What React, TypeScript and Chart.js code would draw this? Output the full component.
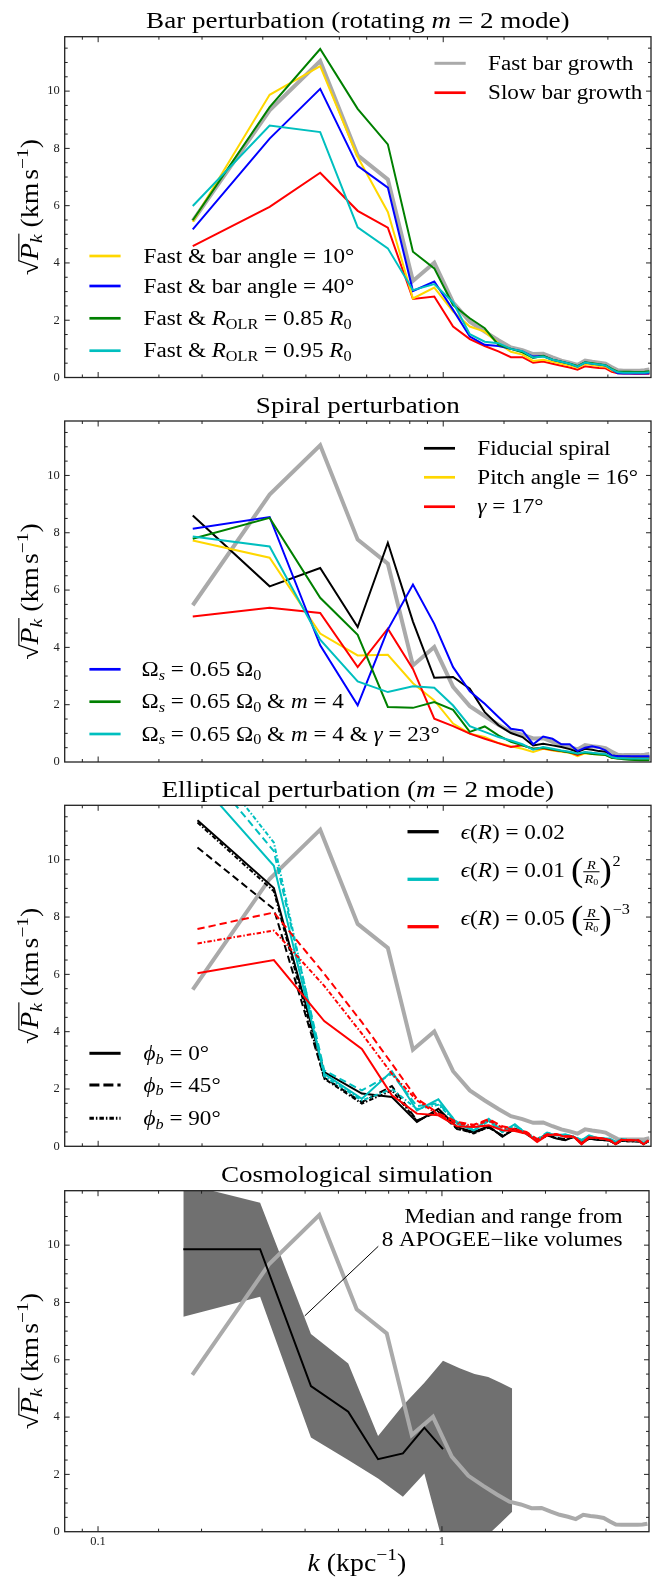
import React, { useEffect, useRef } from "react";
import { Chart, registerables } from "chart.js";
Chart.register(...registerables);

const FONT = '"Liberation Serif", "DejaVu Serif", serif';
const SX = 1.13;
const INK = "#111";
const GRAY = "#aaaaaa";
const BAND = "#707070";
const GOLD = "#ffd700";
const BLUE = "#0000ff";
const GREEN = "#008000";
const CYAN = "#00bfbf";
const RED = "#ff0000";
const BLACK = "#000000";

// ---------- data ----------
const kBar = [0.188, 0.314, 0.440, 0.565, 0.691, 0.817, 0.942, 1.068, 1.194, 1.319, 1.445, 1.571, 1.696, 1.822, 1.948, 2.073, 2.199, 2.325, 2.450, 2.576, 2.702, 2.827, 2.953, 3.079, 3.204, 3.330, 3.456, 3.581, 3.707, 3.833, 3.958];
const kEll = [0.194, 0.323, 0.452, 0.581, 0.710, 0.839, 0.968, 1.097, 1.226, 1.355, 1.484, 1.613, 1.742, 1.871, 2.000, 2.129, 2.258, 2.387, 2.516, 2.645, 2.774, 2.903, 3.032, 3.161, 3.290, 3.419, 3.548, 3.677, 3.806, 3.935];
const kCos = [0.177, 0.296, 0.416, 0.534, 0.652, 0.770, 0.889, 1.007, 1.126, 1.244, 1.363, 1.481, 1.600];
const kMed = [0.177, 0.296, 0.416, 0.534, 0.652, 0.770, 0.889, 1.007];
const kNote = [0.653, 0.399];

// Bar perturbation
const fastBar = [5.47, 9.33, 11.05, 7.76, 6.92, 3.37, 4.01, 2.62, 1.95, 1.60, 1.30, 1.05, 0.95, 0.82, 0.83, 0.70, 0.59, 0.52, 0.44, 0.59, 0.55, 0.52, 0.48, 0.36, 0.25, 0.24, 0.24, 0.24, 0.24, 0.25, 0.28];
const slowBar = [4.59, 5.96, 7.15, 5.82, 5.23, 2.74, 2.83, 1.78, 1.34, 1.10, 0.91, 0.71, 0.71, 0.52, 0.56, 0.48, 0.41, 0.35, 0.27, 0.39, 0.36, 0.33, 0.32, 0.20, 0.15, 0.14, 0.14, 0.13, 0.13, 0.13, 0.13];
const barAngle10 = [5.44, 9.87, 10.87, 7.70, 5.78, 2.76, 3.14, 2.30, 1.78, 1.60, 1.20, 0.90, 0.80, 0.58, 0.62, 0.55, 0.48, 0.42, 0.34, 0.47, 0.44, 0.40, 0.38, 0.25, 0.18, 0.18, 0.17, 0.17, 0.16, 0.16, 0.16];
const barAngle40 = [5.17, 8.34, 10.08, 7.39, 6.63, 3.02, 3.35, 2.36, 1.43, 1.14, 1.10, 1.00, 0.91, 0.73, 0.75, 0.62, 0.55, 0.48, 0.38, 0.52, 0.48, 0.45, 0.42, 0.28, 0.15, 0.14, 0.14, 0.14, 0.14, 0.14, 0.15];
const olr085 = [5.49, 9.44, 11.47, 9.38, 8.14, 4.39, 3.81, 2.53, 2.07, 1.72, 1.14, 1.00, 0.88, 0.68, 0.76, 0.62, 0.55, 0.48, 0.40, 0.53, 0.50, 0.46, 0.43, 0.30, 0.20, 0.20, 0.20, 0.19, 0.19, 0.20, 0.22];
const olr095 = [5.99, 8.80, 8.57, 5.24, 4.51, 3.05, 3.26, 2.62, 1.51, 1.25, 1.20, 1.00, 0.92, 0.70, 0.73, 0.62, 0.55, 0.48, 0.38, 0.52, 0.48, 0.45, 0.42, 0.28, 0.18, 0.17, 0.17, 0.17, 0.17, 0.17, 0.18];

// Spiral perturbation
const fiducial = [8.60, 6.13, 6.77, 4.71, 7.65, 4.90, 2.94, 2.97, 2.56, 1.74, 1.28, 1.01, 0.87, 0.58, 0.64, 0.58, 0.52, 0.45, 0.35, 0.46, 0.43, 0.38, 0.36, 0.23, 0.20, 0.18, 0.18, 0.17, 0.17, 0.17, 0.17];
const pitch16 = [7.73, 7.13, 4.48, 3.72, 3.74, 2.75, 2.15, 1.34, 0.99, 0.87, 0.66, 0.55, 0.46, 0.35, 0.46, 0.40, 0.36, 0.32, 0.20, 0.30, 0.28, 0.26, 0.25, 0.15, 0.12, 0.12, 0.12, 0.11, 0.11, 0.11, 0.11];
const gamma17 = [5.08, 5.38, 5.20, 3.31, 4.65, 3.25, 1.51, 1.25, 0.99, 0.81, 0.66, 0.52, 0.58, 0.46, 0.48, 0.42, 0.38, 0.34, 0.25, 0.33, 0.30, 0.28, 0.27, 0.16, 0.13, 0.13, 0.13, 0.12, 0.12, 0.12, 0.12];
const omega065 = [8.14, 8.55, 4.07, 1.98, 4.62, 6.19, 4.82, 3.31, 2.47, 2.03, 1.57, 1.16, 1.10, 0.62, 0.89, 0.81, 0.62, 0.62, 0.38, 0.50, 0.55, 0.50, 0.41, 0.23, 0.20, 0.20, 0.20, 0.20, 0.20, 0.20, 0.20];
const omegaM4 = [7.79, 8.52, 5.73, 4.44, 1.92, 1.89, 2.09, 1.82, 1.05, 1.24, 0.93, 0.70, 0.58, 0.46, 0.50, 0.44, 0.38, 0.33, 0.29, 0.32, 0.28, 0.26, 0.24, 0.15, 0.12, 0.10, 0.08, 0.07, 0.06, 0.06, 0.06];
const omegaM4g23 = [7.87, 7.52, 4.27, 2.81, 2.44, 2.64, 2.59, 1.97, 1.25, 1.05, 0.87, 0.75, 0.62, 0.43, 0.52, 0.46, 0.40, 0.36, 0.30, 0.35, 0.32, 0.30, 0.28, 0.17, 0.13, 0.13, 0.12, 0.12, 0.12, 0.12, 0.12];

// Elliptical perturbation
const ellConst0 = [11.38, 9.01, 2.59, 1.84, 1.72, 0.85, 1.31, 0.67, 0.50, 0.70, 0.33, 0.62, 0.44, 0.19, 0.38, 0.27, 0.21, 0.33, 0.10, 0.27, 0.23, 0.22, 0.20, 0.08, 0.20, 0.18, 0.18, 0.18, 0.08, 0.18];
const ellConst45 = [10.43, 8.28, 2.40, 1.54, 2.10, 0.90, 1.20, 0.60, 0.48, 0.65, 0.38, 0.60, 0.42, 0.22, 0.40, 0.30, 0.25, 0.33, 0.12, 0.28, 0.25, 0.22, 0.20, 0.10, 0.20, 0.20, 0.18, 0.18, 0.10, 0.18];
const ellConst90 = [11.30, 8.90, 2.36, 1.49, 1.95, 0.88, 1.25, 0.62, 0.45, 0.68, 0.35, 0.60, 0.44, 0.20, 0.38, 0.28, 0.22, 0.33, 0.10, 0.27, 0.24, 0.22, 0.20, 0.09, 0.19, 0.18, 0.18, 0.17, 0.09, 0.17];
const ellRise0 = [12.80, 9.79, 2.53, 1.66, 2.62, 1.25, 1.64, 0.79, 0.56, 0.96, 0.50, 0.77, 0.44, 0.21, 0.46, 0.38, 0.42, 0.33, 0.21, 0.38, 0.30, 0.28, 0.26, 0.15, 0.25, 0.22, 0.22, 0.20, 0.12, 0.20];
const ellRise45 = [13.50, 10.30, 2.65, 1.95, 2.53, 1.40, 1.50, 0.85, 0.60, 0.90, 0.55, 0.72, 0.48, 0.25, 0.48, 0.40, 0.40, 0.35, 0.22, 0.36, 0.30, 0.28, 0.26, 0.16, 0.24, 0.22, 0.22, 0.20, 0.12, 0.20];
const ellRise90 = [14.00, 10.60, 2.45, 1.60, 2.00, 1.30, 1.45, 0.80, 0.55, 0.88, 0.50, 0.70, 0.45, 0.22, 0.45, 0.38, 0.38, 0.33, 0.20, 0.35, 0.28, 0.26, 0.25, 0.14, 0.22, 0.20, 0.20, 0.19, 0.10, 0.19];
const ellFall0 = [6.04, 6.50, 4.37, 3.40, 1.78, 1.14, 1.08, 0.70, 0.67, 0.73, 0.56, 0.53, 0.44, 0.15, 0.38, 0.42, 0.33, 0.33, 0.07, 0.30, 0.30, 0.27, 0.21, 0.07, 0.23, 0.21, 0.21, 0.21, 0.07, 0.21];
const ellFall45 = [7.58, 8.16, 6.02, 4.33, 2.88, 1.66, 1.15, 0.85, 0.75, 0.95, 0.70, 0.60, 0.50, 0.25, 0.42, 0.42, 0.35, 0.35, 0.12, 0.32, 0.30, 0.27, 0.22, 0.10, 0.24, 0.22, 0.21, 0.21, 0.08, 0.20];
const ellFall90 = [7.08, 7.53, 5.60, 3.93, 2.53, 1.60, 1.10, 0.80, 0.72, 0.90, 0.65, 0.58, 0.48, 0.22, 0.40, 0.40, 0.34, 0.34, 0.10, 0.30, 0.30, 0.26, 0.22, 0.09, 0.23, 0.21, 0.21, 0.20, 0.08, 0.20];

// Cosmological simulation
const cosMedian = [9.86, 9.86, 5.08, 4.19, 2.53, 2.73, 3.63, 2.88];
const cosUpper = [12.15, 11.48, 6.90, 5.87, 3.34, 4.40, 5.20, 5.97, 5.70, 5.50, 5.40, 5.20, 5.00];
const cosLower = [7.50, 8.20, 3.29, 2.50, 1.86, 1.22, 2.03, -0.40, -0.50, -0.50, -0.10, 0.30, 0.70];
const noteLine = [9.96, 7.53];

// ---------- rich text ----------
type Seg = {
  t?: string; i?: boolean; sub?: Seg[]; sup?: Seg[]; hsup?: Seg[];
  frac?: [Seg[], Seg[]]; lp?: boolean; rp?: boolean; sp?: number; ol?: Seg[];
};

function rich(ctx: CanvasRenderingContext2D, segs: Seg[], x: number, y: number, size: number, draw: boolean): number {
  let cx = x;
  for (const s of segs) {
    if (s.sp) cx += s.sp * size;
    if (s.t) {
      ctx.font = `${s.i ? "italic " : ""}${size}px ${FONT}`;
      const w = ctx.measureText(s.t).width * SX;
      if (draw) {
        ctx.save(); ctx.translate(cx, y); ctx.scale(SX, 1); ctx.fillText(s.t, 0, 0); ctx.restore();
      }
      cx += w;
    }
    if (s.ol) {
      ctx.font = `${size}px ${FONT}`;
      const asc = ctx.measureText("\u221a").actualBoundingBoxAscent;
      const w = rich(ctx, s.ol, cx, y, size, draw);
      if (draw) ctx.fillRect(cx - 0.03 * size, y - asc, w + 0.06 * size, Math.max(1, 0.045 * size));
      cx += w;
    }
    if (s.sub) cx += rich(ctx, s.sub, cx, y + 0.17 * size, size * 0.7, draw);
    if (s.sup) cx += rich(ctx, s.sup, cx, y - 0.42 * size, size * 0.7, draw);
    if (s.hsup) cx += rich(ctx, s.hsup, cx + 0.03 * size, y - 0.55 * size, size * 0.7, draw) + 0.03 * size;
    if (s.frac) {
      const fs = size * 0.62;
      const wn = rich(ctx, s.frac[0], 0, 0, fs, false);
      const wd = rich(ctx, s.frac[1], 0, 0, fs, false);
      const w = Math.max(wn, wd) + 0.12 * size;
      const bar = y - 0.27 * size;
      if (draw) {
        rich(ctx, s.frac[0], cx + (w - wn) / 2, bar - 0.12 * size, fs, true);
        rich(ctx, s.frac[1], cx + (w - wd) / 2, bar + 0.53 * size, fs, true);
        ctx.fillRect(cx, bar - 0.5, w, 1);
      }
      cx += w;
    }
    if (s.lp || s.rp) {
      const fsz = size * 1.6;
      const ch = s.lp ? "(" : ")";
      ctx.font = `${fsz}px ${FONT}`;
      const w = ctx.measureText(ch).width * SX;
      if (draw) {
        ctx.save(); ctx.translate(cx, y + 0.19 * size); ctx.scale(SX, 1); ctx.fillText(ch, 0, 0); ctx.restore();
      }
      cx += w;
    }
  }
  return cx - x;
}

// ---------- panels ----------
interface LegendItem { color: string; width: number; dash?: number[]; dy: number; segs: Seg[]; bo?: number }
interface LegendBlock { x1: number; x2: number; tx: number; items: LegendItem[] }
interface Note { segs: Seg[]; x: number; dy: number }
interface PanelSpec {
  top: number; padTop: number; height: number; bottom: boolean;
  title: Seg[]; datasets: any[]; legends: LegendBlock[]; notes?: Note[];
}

const L = (k: number[], v: number[], color: string, width: number, dash: number[] = []) => ({
  data: k.map((x, i) => ({ x, y: v[i] })),
  borderColor: color, borderWidth: width, borderDash: dash,
  pointRadius: 0, fill: false, tension: 0, clip: 0,
});

const LS = 20.5;
const DASH = [7.3, 4];
const DOT = [4.5, 2, 1.5, 2];
const deg = "\u00b0";
const T = (t: string, i = false): Seg => ({ t, i });
const R0: Seg[] = [T("R", true), { sub: [T("0")] }];
const ROLR: Seg[] = [T("R", true), { sub: [T("OLR")] }];
const OMS: Seg[] = [T("\u03a9"), { sub: [T("s", true)] }, T(" = 0.65 \u03a9"), { sub: [T("0")] }];
const EPS: Seg[] = [T("\u03f5", true), T("("), T("R", true), T(")")];
const PHIB: Seg[] = [T("\u03d5", true), { sub: [T("b", true)] }];

const PANELS: PanelSpec[] = [
  {
    top: 0, padTop: 36.7, height: 390, bottom: false,
    title: [T("Bar perturbation (rotating "), T("m", true), T(" = 2 mode)")],
    datasets: [
      L(kBar, olr095, CYAN, 2), L(kBar, olr085, GREEN, 2), L(kBar, barAngle40, BLUE, 2),
      L(kBar, barAngle10, GOLD, 2), L(kBar, slowBar, RED, 2), L(kBar, fastBar, GRAY, 4),
    ],
    legends: [
      { x1: 434.5, x2: 465.7, tx: 488, items: [
        { color: GRAY, width: 3, dy: 26.6, segs: [T("Fast bar growth")] },
        { color: RED, width: 2.7, dy: 56, segs: [T("Slow bar growth")] },
      ] },
      { x1: 89.4, x2: 120.6, tx: 143.5, items: [
        { color: GOLD, width: 2.7, dy: 219.3, segs: [T("Fast & bar angle = 10" + deg)] },
        { color: BLUE, width: 2.7, dy: 249.3, segs: [T("Fast & bar angle = 40" + deg)] },
        { color: GREEN, width: 2.7, dy: 281.6, segs: [T("Fast & "), ...ROLR, T(" = 0.85 "), ...R0] },
        { color: CYAN, width: 2.7, dy: 314, segs: [T("Fast & "), ...ROLR, T(" = 0.95 "), ...R0] },
      ] },
    ],
  },
  {
    top: 385, padTop: 36, height: 390, bottom: false,
    title: [T("Spiral perturbation")],
    datasets: [
      L(kBar, omegaM4g23, CYAN, 2), L(kBar, omegaM4, GREEN, 2), L(kBar, omega065, BLUE, 2),
      L(kBar, gamma17, RED, 2), L(kBar, pitch16, GOLD, 2), L(kBar, fiducial, BLACK, 2),
      L(kBar, fastBar, GRAY, 4),
    ],
    legends: [
      { x1: 424, x2: 455, tx: 477.3, items: [
        { color: BLACK, width: 2.7, dy: 27.3, segs: [T("Fiducial spiral")] },
        { color: GOLD, width: 2.7, dy: 56.3, segs: [T("Pitch angle = 16" + deg)] },
        { color: RED, width: 2.7, dy: 85.7, segs: [T("\u03b3", true), T(" = 17" + deg)] },
      ] },
      { x1: 89.4, x2: 120.6, tx: 141.5, items: [
        { color: BLUE, width: 2.7, dy: 248.3, segs: [...OMS] },
        { color: GREEN, width: 2.7, dy: 280.7, segs: [...OMS, T(" & "), T("m", true), T(" = 4")] },
        { color: CYAN, width: 2.7, dy: 313, segs: [...OMS, T(" & "), T("m", true), T(" = 4 & "), T("\u03b3", true), T(" = 23" + deg)] },
      ] },
    ],
  },
  {
    top: 769, padTop: 36.3, height: 390, bottom: false,
    title: [T("Elliptical perturbation ("), T("m", true), T(" = 2 mode)")],
    datasets: [
      L(kEll, ellFall90, RED, 2, DOT), L(kEll, ellFall45, RED, 2, DASH), L(kEll, ellFall0, RED, 2),
      L(kEll, ellRise90, CYAN, 2, DOT), L(kEll, ellRise45, CYAN, 2, DASH), L(kEll, ellRise0, CYAN, 2),
      L(kEll, ellConst90, BLACK, 2, DOT), L(kEll, ellConst45, BLACK, 2, DASH), L(kEll, ellConst0, BLACK, 2),
      L(kBar, fastBar, GRAY, 4),
    ],
    legends: [
      { x1: 407.5, x2: 438.7, tx: 460.7, items: [
        { color: BLACK, width: 3.3, dy: 26.4, bo: 7.6, segs: [...EPS, T(" = 0.02")] },
        { color: CYAN, width: 3.3, dy: 74, bo: -2, segs: [...EPS, T(" = 0.01"), { sp: 0.3 }, { lp: true }, { frac: [[T("R", true)], R0] }, { rp: true }, { hsup: [T("2")] }] },
        { color: RED, width: 3.3, dy: 121.4, bo: -1.7, segs: [...EPS, T(" = 0.05"), { sp: 0.3 }, { lp: true }, { frac: [[T("R", true)], R0] }, { rp: true }, { hsup: [T("\u22123")] }] },
      ] },
      { x1: 89.4, x2: 120.6, tx: 143.5, items: [
        { color: BLACK, width: 3, dy: 248, segs: [...PHIB, T(" = 0" + deg)] },
        { color: BLACK, width: 3, dash: [10, 4], dy: 279.7, segs: [...PHIB, T(" = 45" + deg)] },
        { color: BLACK, width: 3, dash: DOT, dy: 313, segs: [...PHIB, T(" = 90" + deg)] },
      ] },
    ],
  },
  {
    top: 1154, padTop: 36.7, height: 427, bottom: true,
    title: [T("Cosmological simulation")],
    datasets: [
      L(kMed, cosMedian, BLACK, 2),
      L(kNote, noteLine, BLACK, 1),
      L(kBar, fastBar, GRAY, 4),
      { ...L(kCos, cosUpper, "rgba(0,0,0,0)", 1), fill: "+1", backgroundColor: BAND },
      L(kCos, cosLower, "rgba(0,0,0,0)", 1),
    ],
    legends: [],
    notes: [
      { segs: [T("Median and range from")], x: 622.5, dy: 32 },
      { segs: [T("8 APOGEE\u2212like volumes")], x: 622.5, dy: 55.3 },
    ],
  },
];

const YLABEL: Seg[] = [T("\u221a"), { ol: [T("P", true), { sub: [T("k", true)] }] }, T(" (km"), { sp: 0.12 }, T("s"), { sup: [T("\u22121")] }, T(")")];
const XLABEL: Seg[] = [T("k", true), T(" (kpc"), { sup: [T("\u22121")] }, T(")")];

function decoPlugin(spec: PanelSpec) {
  return {
    id: "deco",
    afterDraw(chart: any) {
      const ctx: CanvasRenderingContext2D = chart.ctx;
      const a = chart.chartArea;
      const xs = chart.scales.x, ys = chart.scales.y;
      ctx.save();
      ctx.strokeStyle = "#222";
      ctx.lineWidth = 1;
      ctx.setLineDash([]);
      ctx.beginPath();
      for (const t of xs.ticks) {
        const v = t.value;
        if (v <= xs.min || v >= xs.max) continue;
        const lg = Math.log10(v);
        const len = Math.abs(lg - Math.round(lg)) < 1e-6 ? 5.5 : 3;
        const px = xs.getPixelForValue(v);
        ctx.moveTo(px, a.bottom); ctx.lineTo(px, a.bottom - len);
        ctx.moveTo(px, a.top); ctx.lineTo(px, a.top + len);
      }
      for (let v = 0.5; v < ys.max; v += 0.5) {
        const len = Math.abs(v / 2 - Math.round(v / 2)) < 1e-6 ? 5 : 3;
        const py = ys.getPixelForValue(v);
        ctx.moveTo(a.left, py); ctx.lineTo(a.left + len, py);
        ctx.moveTo(a.right, py); ctx.lineTo(a.right - len, py);
      }
      ctx.stroke();
      ctx.lineWidth = 1.3;
      ctx.strokeRect(a.left, a.top, a.right - a.left, a.bottom - a.top);

      ctx.fillStyle = "#000";
      ctx.textAlign = "left";
      ctx.textBaseline = "alphabetic";
      const cxm = (a.left + a.right) / 2;
      // title
      const tw = rich(ctx, spec.title, 0, 0, 24, false);
      rich(ctx, spec.title, cxm - tw / 2, a.top - 8.3, 24, true);
      // y label
      const ls = 24.6;
      const yw = rich(ctx, YLABEL, 0, 0, ls, false);
      ctx.save();
      ctx.translate(38.3, (a.top + a.bottom) / 2);
      ctx.rotate(-Math.PI / 2);
      rich(ctx, YLABEL, -yw / 2, 0, ls, true);
      ctx.restore();
      // x label
      if (spec.bottom) {
        const xw = rich(ctx, XLABEL, 0, 0, ls, false);
        rich(ctx, XLABEL, cxm - xw / 2, a.bottom + 39, ls, true);
      }
      // legends
      for (const b of spec.legends) {
        for (const it of b.items) {
          const y = a.top + it.dy;
          ctx.strokeStyle = it.color;
          ctx.lineWidth = it.width;
          ctx.setLineDash(it.dash || []);
          ctx.beginPath(); ctx.moveTo(b.x1, y); ctx.lineTo(b.x2, y); ctx.stroke();
          ctx.setLineDash([]);
          ctx.fillStyle = "#000";
          rich(ctx, it.segs, b.tx, y + (it.bo ?? 0.33 * LS), LS, true);
        }
      }
      // notes
      for (const n of spec.notes || []) {
        const w = rich(ctx, n.segs, 0, 0, LS, false);
        rich(ctx, n.segs, n.x - w, a.top + n.dy, LS, true);
      }
      ctx.restore();
    },
  };
}

function Panel({ spec }: { spec: PanelSpec }) {
  const ref = useRef<HTMLCanvasElement>(null);
  useEffect(() => {
    const xh = spec.bottom ? 20 : 0;
    const padBottom = spec.height - spec.padTop - 341 - xh;
    const chart = new Chart(ref.current!, {
      type: "line",
      data: { datasets: spec.datasets },
      options: {
        animation: false,
        responsive: false,
        devicePixelRatio: 1,
        events: [],
        layout: { padding: { top: spec.padTop, bottom: padBottom, left: 0, right: 1 } },
        plugins: { legend: { display: false }, tooltip: { enabled: false }, title: { display: false } },
        scales: {
          x: {
            type: "logarithmic", min: 0.08, max: 4,
            grid: { display: false, drawTicks: false }, border: { display: false },
            ticks: {
              display: spec.bottom, autoSkip: false, maxRotation: 0, minRotation: 0, padding: 3,
              color: "#222", font: { family: FONT, size: 12.5 },
              callback: (v: any) => {
                const n = Number(v); const lg = Math.log10(n);
                return Math.abs(lg - Math.round(lg)) < 1e-6 ? (n >= 1 ? String(Math.round(n)) : String(n)) : "";
              },
            },
            afterFit: (s: any) => { s.height = xh; },
          },
          y: {
            type: "linear", min: 0, max: 11.9,
            grid: { display: false, drawTicks: false }, border: { display: false },
            ticks: { stepSize: 2, includeBounds: false, padding: 5, color: "#222", font: { family: FONT, size: 12.5 } },
            afterFit: (s: any) => { s.width = 64.7; },
          },
        },
      } as any,
      plugins: [decoPlugin(spec)],
    });
    return () => chart.destroy();
  }, [spec]);
  return (
    <canvas ref={ref} width={652} height={spec.height}
      style={{ position: "absolute", left: 0, top: spec.top, width: 652, height: spec.height }} />
  );
}

export default function App() {
  return (
    <div style={{ position: "absolute", left: 0, top: 0, width: 652, height: 1581, background: "#fff", overflow: "hidden" }}>
      {PANELS.map((p, i) => <Panel key={i} spec={p} />)}
    </div>
  );
}
